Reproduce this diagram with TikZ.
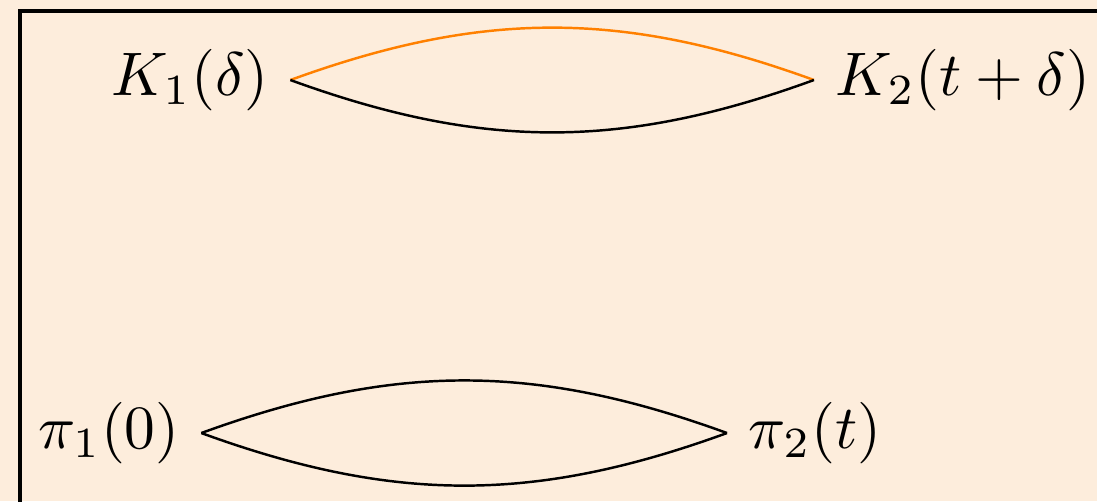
\documentclass[tikz,border=0pt]{standalone}
\usepackage{amsmath,amssymb}
\usepackage{tikz}
\definecolor{blockbg}{RGB}{253,237,220}

\begin{document}
\begin{tikzpicture}[x=0.1626pt, y=-0.1626pt,
lens/.style={bend left=20},
lbl/.style={inner sep=.333em}
]
\useasboundingbox (0,0) rectangle (1097,501);
\fill[blockbg] (0,0) rectangle (1097,501);
\draw[line width=.5pt] (20,510) -- (20,11) -- (1110,11);

%\node at (555,250) {};
\node[lbl] (K1) at (190,80) {$K_1(\delta)$};
\node[lbl] (K2) at (963,80) {$K_2(t+\delta)$};
\node[lbl] (P1) at (109,433) {$\pi_1(0)$};
\node[lbl] (P2) at (815,433) {$\pi_2(t)$};

\draw[orange] (K1.east) to[lens] (K2.west);
\draw (K1.east) to[bend right=20] (K2.west);
\draw (P1.east) to[lens] (P2.west);
\draw (P1.east) to[bend right=20] (P2.west);
\end{tikzpicture}
\end{document}
